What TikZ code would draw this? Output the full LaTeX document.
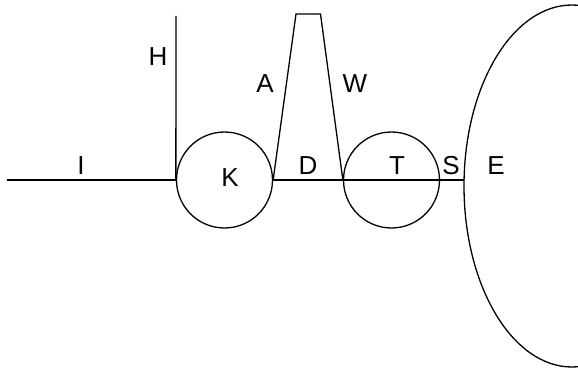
\documentclass[tikz,border=0pt]{standalone}
\usepackage{fontspec}
\setmainfont{Liberation Sans}
\begin{document}
\begin{tikzpicture}[x=1pt,y=-1pt,
  ln/.style={line width=1.3pt},
  lbl/.style={font=\fontsize{26}{30}\selectfont, inner sep=0pt},
  ring/.style={circle, draw, line width=1.3pt, minimum size=96pt, inner sep=0pt}]
\useasboundingbox (0,0) rectangle (578,369);
\node[ring] (K) at (224.5,180) {};
\node[ring] (T) at (391.5,180) {};
\coordinate (i0) at (7,180);
\coordinate (h0) at (176,16);
\coordinate (a0) at (296,14);
\coordinate (w0) at (320.5,14);
\coordinate (e0) at (464,180);
\draw[ln] (i0) -- (K.west);
\draw[ln] (h0) -- (K.west);
\draw[ln] (K.east) -- (a0) -- (w0) -- (T.west);
\draw[ln] (K.east) -- (T.west);
\draw[ln] (T.west) -- (T.east) -- (e0);
\draw[ln] (572,186) ellipse [x radius=108, y radius=181];
\node[lbl] (I) at (81,166) {I};
\node[lbl] (H) at (158,57) {H};
\node[lbl] (A) at (265,84) {A};
\node[lbl] (W) at (355,84) {W};
\node[lbl] (Kl) at (230,178) {K};
\node[lbl] (D) at (308,166) {D};
\node[lbl] (Tl) at (397,166) {T};
\node[lbl] (S) at (451,166) {S};
\node[lbl] (E) at (496,166) {E};
\end{tikzpicture}
\end{document}
